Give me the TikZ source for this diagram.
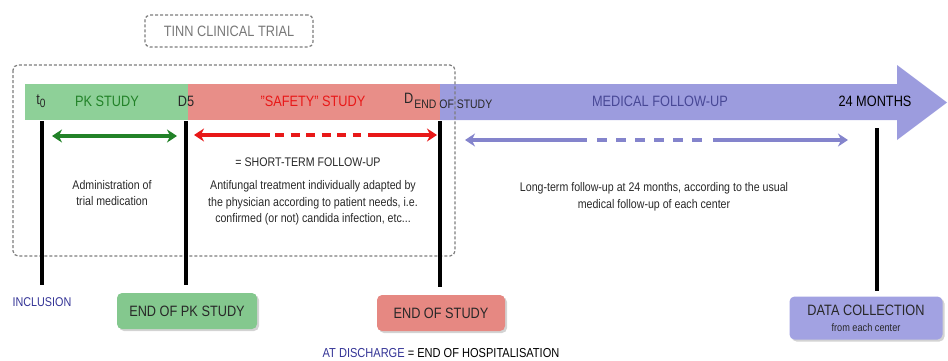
\documentclass[tikz,border=0pt]{standalone}
\usepackage{fontspec}
\setmainfont{Liberation Sans}[FakeStretch=0.85]
\usetikzlibrary{arrows.meta,shadows}

\definecolor{pkfill}{RGB}{142,208,152}
\definecolor{safefill}{RGB}{232,142,136}
\definecolor{medfill}{RGB}{156,156,222}
\definecolor{pkbox}{RGB}{132,200,142}
\definecolor{safebox}{RGB}{230,136,130}
\definecolor{medbox}{RGB}{162,162,226}
\definecolor{pkline}{RGB}{34,130,40}
\definecolor{safeline}{RGB}{232,24,24}
\definecolor{medline}{RGB}{132,132,204}
\definecolor{medtext}{RGB}{72,72,150}
\definecolor{navy}{RGB}{52,52,150}
\definecolor{framegray}{RGB}{125,125,125}
\definecolor{titlegray}{RGB}{120,120,120}
\definecolor{ink}{RGB}{40,40,40}

\begin{document}
\begin{tikzpicture}[x=1pt,y=-1pt,
  >={Stealth[length=10pt,width=13pt]},
  bigtxt/.style={inner sep=0pt,font=\fontsize{15}{18}\selectfont},
  midtxt/.style={inner sep=0pt,align=center,font=\fontsize{12.5}{16.5}\selectfont},
  barpart/.style={draw=none,minimum height=36pt,inner sep=0pt,anchor=north west},
  framebox/.style={draw=framegray,line width=1.2pt,dash pattern=on 3pt off 2pt,rounded corners=5pt},
  vline/.style={line width=3.6pt,black},
  endbox/.style={rounded corners=5pt,inner sep=0pt,align=center,
    drop shadow={opacity=0.35,shadow xshift=2pt,shadow yshift=-2pt},
    font=\fontsize{15}{18}\selectfont,text=ink},
  spanline/.style={line width=3.4pt}
]
\useasboundingbox (0,0) rectangle (948,360);

% timeline bar: PK study, safety study, then the follow-up arrow
\node[barpart,fill=pkfill,minimum width=163pt] (pkbar) at (25,84) {};
\node[barpart,fill=safefill,minimum width=252pt] (safebar) at (188,84) {};
\fill[medfill] (440,84) -- (897,84) -- (897,65) -- (947,102.5) -- (897,140)
  -- (897,120) -- (440,120) -- cycle;

% bar labels
\node[bigtxt,text=ink] (t0) at (41,101) {t\raisebox{-3pt}{\fontsize{12}{14}\selectfont 0}};
\node[bigtxt,text=pkline] (pklabel) at (107,101) {PK STUDY};
\node[bigtxt,text=ink] (d5) at (186,101) {D5};
\node[bigtxt,text=safeline] (safelabel) at (313,101) {"SAFETY" STUDY};
\node[bigtxt,text=ink,anchor=west] (dend) at (404,101)
  {D\raisebox{-5pt}{\fontsize{12.3}{14}\selectfont\kern1pt END OF STUDY}};
\node[bigtxt,text=medtext] (medlabel) at (660,101) {MEDICAL FOLLOW-UP};
\node[bigtxt,text=black] (months) at (875,101) {24 MONTHS};

% dashed frames of the clinical trial
\draw[framebox] (13,65) rectangle (455,256);
\node[framebox,minimum width=168pt,minimum height=32pt,inner sep=0pt,
  text=titlegray,font=\fontsize{15}{18}\selectfont] (title) at (229,31) {TINN CLINICAL TRIAL};

% milestone lines
\coordinate (incTop) at (42,121);   \coordinate (incBot) at (42,285);
\coordinate (pkTop) at (186,121);   \coordinate (pkBot) at (186,285);
\coordinate (esTop) at (440,121);   \coordinate (esBot) at (440,287);
\coordinate (dcTop) at (877,128);   \coordinate (dcBot) at (877,291);
\draw[vline] (incTop) -- (incBot);
\draw[vline] (pkTop) -- (pkBot);
\draw[vline] (esTop) -- (esBot);
\draw[vline] (dcTop) -- (dcBot);

% span arrows
\coordinate (gA) at (52,136);  \coordinate (gB) at (177,136);
\draw[spanline,pkline,<->] (gA) -- (gB);

\coordinate (rA) at (194,135); \coordinate (r1) at (270,135);
\coordinate (r2) at (275,135); \coordinate (r3) at (361,135);
\coordinate (r4) at (368,135); \coordinate (rB) at (437,135);
\draw[spanline,safeline,<-] (rA) -- (r1);
\draw[spanline,safeline,dash pattern=on 9pt off 6.5pt] (r2) -- (r3);
\draw[spanline,safeline,->] (r4) -- (rB);

\coordinate (pA) at (465,140); \coordinate (p1) at (587,140);
\coordinate (p2) at (597,140); \coordinate (p3) at (705,140);
\coordinate (p4) at (713,140); \coordinate (pB) at (848,140);
\draw[spanline,medline,<-] (pA) -- (p1);
\draw[spanline,medline,dash pattern=on 10pt off 9pt] (p2) -- (p3);
\draw[spanline,medline,->] (p4) -- (pB);

% descriptions
\node[midtxt,text=ink] (shortterm) at (308,162) {= SHORT-TERM FOLLOW-UP};
\node[midtxt,text=ink] (admin) at (112,193) {Administration of\\trial medication};
\node[midtxt,text=ink] (antifungal) at (313,203)
  {Antifungal treatment individually adapted by\\the physician according to patient needs, i.e.\\confirmed (or not) candida infection, etc...};
\node[midtxt,text=ink] (longterm) at (654,197)
  {Long-term follow-up at 24 months, according to the usual\\medical follow-up of each center};

% milestones
\node[inner sep=0pt,text=navy,font=\fontsize{12.7}{15}\selectfont] (inclusion) at (42,302) {INCLUSION};
\node[endbox,fill=pkbox,minimum width=140pt,minimum height=36pt] (endpk) at (187,311) {END OF PK STUDY};
\node[endbox,fill=safebox,minimum width=128pt,minimum height=36pt] (endstudy) at (441,313) {END OF STUDY};
\node[endbox,fill=medbox,minimum width=153pt,minimum height=43pt] (datacoll) at (866,318)
  {DATA COLLECTION\\[-2pt]{\fontsize{10.8}{13}\selectfont from each center}};
\node[inner sep=0pt,font=\fontsize{13}{15}\selectfont] (discharge) at (441,353)
  {\textcolor{navy}{AT DISCHARGE} = END OF HOSPITALISATION};
\end{tikzpicture}
\end{document}
